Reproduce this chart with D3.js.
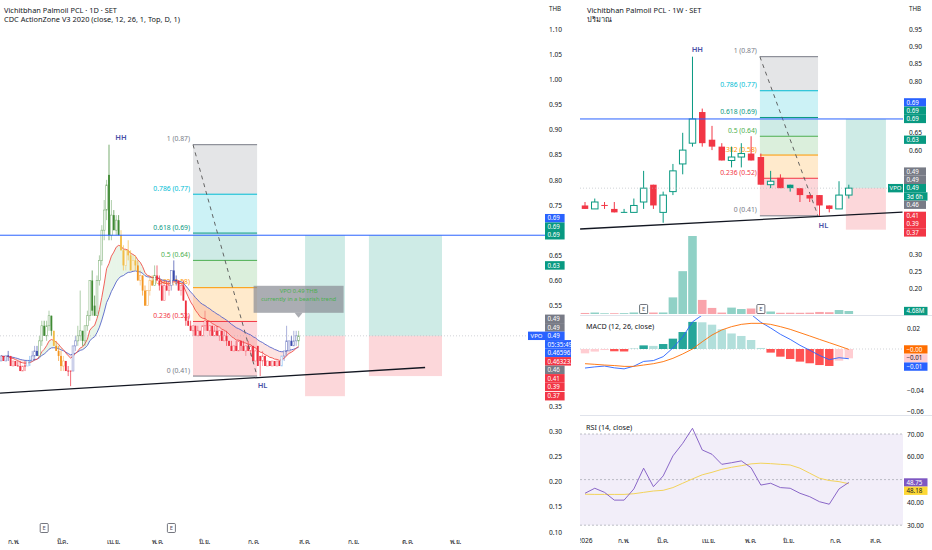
<!DOCTYPE html>
<html><head><meta charset="utf-8">
<script src="https://cdn.jsdelivr.net/npm/d3@7"></script>
<style>
body{margin:0;background:#fff}
svg{display:block}
text{font-family:"Noto Sans","Open Sans",Roboto,sans-serif}
</style>
</head><body>
<svg id="c" width="932" height="550"></svg>
<script>
// ---------------- DATA ----------------
// Daily candles [open, high, low, close]
const dailyOHLC = [
[0.44,0.45,0.44,0.45],[0.45,0.45,0.44,0.44],[0.44,0.45,0.44,0.45],[0.45,0.46,0.44,0.45],[0.45,0.45,0.43,0.43],
[0.43,0.44,0.43,0.44],[0.44,0.44,0.43,0.43],[0.43,0.44,0.43,0.43],[0.43,0.44,0.42,0.42],[0.42,0.43,0.42,0.43],
[0.43,0.44,0.42,0.43],[0.43,0.44,0.43,0.44],[0.44,0.45,0.43,0.44],[0.44,0.46,0.44,0.45],[0.45,0.47,0.44,0.46],
[0.46,0.47,0.45,0.45],[0.45,0.49,0.45,0.48],[0.48,0.52,0.47,0.51],[0.51,0.52,0.49,0.49],[0.49,0.52,0.48,0.51],
[0.51,0.54,0.50,0.53],[0.53,0.53,0.49,0.50],[0.50,0.50,0.47,0.47],[0.47,0.48,0.46,0.46],[0.46,0.47,0.44,0.45],
[0.45,0.46,0.42,0.43],[0.43,0.45,0.42,0.44],[0.44,0.44,0.42,0.42],[0.42,0.43,0.41,0.42],[0.42,0.42,0.39,0.42],
[0.42,0.47,0.42,0.47],[0.47,0.49,0.46,0.48],[0.48,0.51,0.47,0.49],[0.49,0.58,0.48,0.50],[0.50,0.50,0.47,0.48],
[0.48,0.51,0.47,0.51],[0.51,0.54,0.50,0.53],[0.53,0.60,0.52,0.60],[0.60,0.62,0.53,0.54],[0.55,0.57,0.53,0.53],
[0.53,0.61,0.53,0.60],[0.60,0.65,0.59,0.64],[0.64,0.71,0.63,0.70],[0.70,0.76,0.68,0.74],[0.74,0.80,0.72,0.79],
[0.81,0.87,0.68,0.69],[0.69,0.76,0.68,0.73],[0.73,0.74,0.70,0.70],[0.70,0.73,0.69,0.72],[0.72,0.73,0.69,0.69],
[0.69,0.70,0.66,0.66],[0.66,0.67,0.62,0.63],[0.63,0.66,0.62,0.66],[0.66,0.68,0.64,0.65],[0.65,0.66,0.62,0.62],
[0.62,0.65,0.62,0.64],[0.64,0.65,0.62,0.63],[0.63,0.64,0.60,0.60],[0.60,0.62,0.59,0.61],[0.61,0.61,0.57,0.58],
[0.58,0.59,0.55,0.55],[0.55,0.58,0.55,0.58],[0.58,0.61,0.57,0.60],[0.60,0.61,0.59,0.59],[0.59,0.63,0.59,0.61],
[0.61,0.63,0.60,0.60],[0.60,0.61,0.58,0.59],[0.59,0.60,0.56,0.56],[0.56,0.60,0.56,0.59],[0.59,0.60,0.58,0.58],
[0.58,0.60,0.57,0.59],[0.59,0.62,0.58,0.62],[0.62,0.64,0.60,0.60],[0.60,0.61,0.59,0.60],[0.60,0.60,0.58,0.58],
[0.58,0.59,0.57,0.59],[0.59,0.60,0.56,0.56],[0.56,0.56,0.51,0.52],[0.52,0.53,0.51,0.51],[0.51,0.52,0.50,0.50],
[0.50,0.51,0.49,0.51],[0.51,0.51,0.49,0.49],[0.49,0.51,0.49,0.50],[0.50,0.50,0.49,0.49],[0.49,0.51,0.49,0.51],
[0.51,0.54,0.50,0.52],[0.52,0.52,0.50,0.50],[0.50,0.51,0.49,0.51],[0.51,0.51,0.49,0.49],[0.49,0.51,0.49,0.50],
[0.50,0.51,0.49,0.49],[0.49,0.50,0.48,0.50],[0.50,0.50,0.48,0.48],[0.48,0.50,0.48,0.49],[0.49,0.50,0.47,0.48],
[0.48,0.48,0.47,0.47],[0.47,0.48,0.46,0.46],[0.46,0.47,0.46,0.47],[0.47,0.48,0.46,0.46],[0.46,0.48,0.46,0.48],
[0.48,0.48,0.46,0.47],[0.47,0.48,0.46,0.46],[0.46,0.47,0.45,0.47],[0.47,0.48,0.46,0.46],[0.46,0.47,0.45,0.47],
[0.47,0.47,0.44,0.44],[0.44,0.46,0.44,0.46],[0.47,0.47,0.43,0.43],[0.45,0.45,0.41,0.44],[0.44,0.46,0.43,0.45],
[0.45,0.45,0.43,0.43],[0.43,0.44,0.43,0.44],[0.44,0.44,0.43,0.43],[0.43,0.44,0.43,0.44],[0.44,0.44,0.43,0.43],
[0.43,0.44,0.43,0.44],[0.44,0.44,0.43,0.43],[0.43,0.45,0.43,0.45],[0.45,0.46,0.44,0.46],[0.46,0.51,0.45,0.48],
[0.46,0.48,0.46,0.48],[0.48,0.49,0.47,0.47],[0.47,0.50,0.47,0.48],[0.48,0.50,0.47,0.49],[0.48,0.50,0.47,0.49]
];
const leftMonths   = ['ก.พ.','มี.ค.','เม.ย.','พ.ค.','มิ.ย.','ก.ค.','ส.ค.','ก.ย.','ต.ค.','พ.ย.'];
const leftMonthIdx = [5, 25.4, 46.7, 65, 84.6, 105, 126.3, 146.7, 169.2, 189.2];
// visible price ticks (the others sit under the price labels)
const leftPriceTicks = [1.10,1.05,1.00,0.95,0.90,0.85,0.80,0.75,0.65,0.60,0.55,0.35,0.30,0.25,0.20,0.15,0.10];
const leftEarningsIdx = [18, 71];

// Weekly candles [open, high, low, close]
const weeklyOHLC = [
[0.44,0.45,0.43,0.43],[0.43,0.46,0.43,0.45],[0.44,0.45,0.43,0.44],[0.43,0.45,0.42,0.42],[0.42,0.43,0.42,0.42],
[0.42,0.46,0.42,0.44],[0.45,0.54,0.43,0.49],[0.50,0.50,0.43,0.44],[0.42,0.48,0.39,0.47],[0.48,0.56,0.47,0.54],
[0.56,0.65,0.53,0.60],[0.62,0.87,0.61,0.69],[0.71,0.72,0.61,0.62],[0.63,0.67,0.60,0.61],[0.61,0.62,0.57,0.57],
[0.57,0.61,0.55,0.58],[0.58,0.62,0.55,0.59],[0.59,0.64,0.57,0.57],[0.58,0.59,0.50,0.50],[0.50,0.54,0.49,0.51],
[0.52,0.53,0.49,0.49],[0.50,0.50,0.48,0.49],[0.49,0.49,0.45,0.47],[0.47,0.47,0.45,0.46],[0.47,0.47,0.41,0.44],
[0.44,0.44,0.42,0.43],[0.43,0.51,0.43,0.47],[0.47,0.50,0.46,0.49]
];
const weeklyVolumeM = [1.6,2.3,1.1,1.2,1.3,2.4,14,2.3,2.4,26,67,122,22,9.5,2.2,10,7.8,8.6,4.7,3.9,1.9,2.0,1.9,2.1,3.2,2.8,6.2,4.68];
const macdLine   = [-0.0184,-0.0173,-0.0165,-0.0182,-0.0192,-0.0166,-0.012,-0.0112,-0.0074,0.001,0.0116,0.0262,0.0328,0.037,0.0374,0.0366,0.0364,0.0335,0.0258,0.0203,0.0142,0.0093,0.0036,-0.0012,-0.0062,-0.0103,-0.0084,-0.0094];
const signalLine = [-0.0142,-0.0148,-0.0155,-0.016,-0.0168,-0.0168,-0.0155,-0.0142,-0.0122,-0.009,-0.0048,0,0.007,0.0135,0.0184,0.0216,0.0238,0.0248,0.0248,0.0238,0.0216,0.019,0.0158,0.0126,0.0093,0.0061,0.0029,-0.0004];
const macdHist   = [-0.0042,-0.0025,-0.001,-0.0022,-0.0024,0.0002,0.0035,0.003,0.0048,0.01,0.0164,0.0262,0.0258,0.0235,0.019,0.015,0.0126,0.0087,0.001,-0.0035,-0.0074,-0.0097,-0.0122,-0.0138,-0.0155,-0.0164,-0.0113,-0.009];
const rsiLine = [44.0,46.2,44.4,41.0,41.0,45.9,55.0,46.9,51.6,60.4,65.9,72.5,63.0,61.1,56.7,57.4,58.2,55.2,47.6,48.4,46.5,46.2,44.0,42.5,40.3,39.2,45.9,48.75];
const rsiMA   = [43.6,43.5,43.5,43.5,43.5,43.8,44.4,45.0,45.3,46.5,48.4,50.3,52.1,53.2,54.5,55.4,56.1,56.9,57.2,57.0,56.7,56.4,55.0,52.8,50.6,49.6,49.1,48.18];
const rightMonths   = ['2026','ก.พ.','มี.ค.','เม.ย.','พ.ค.','มิ.ย.','ก.ค.','ส.ค.'];
const rightMonthIdx = [-0.05, 3.9, 7.9, 12.6, 16.9, 20.8, 25.6, 29.7];
const rightPriceTicks = [0.95,0.90,0.85,0.80,0.65,0.60,0.30,0.25,0.20];
const macdTicks = [0.02,-0.04,-0.06];
const rsiTicks = [70,60,40,30];
const rightEarningsIdx = [6, 18];

// Drawings
const fibLevels = [1,0.786,0.618,0.5,0.382,0.236,0];
const fibPriceText = [0.87,0.77,0.69,0.64,0.58,0.52,0.41];
const fibDaily  = {i0:80, i1:106.7, hi:0.87, lo:0.41};
const fibWeekly = {i0:17.9, i1:23.85, hi:0.87, lo:0.41};
const hLinePrice = 0.69;
const vpoPrice = 0.49;
const trendDaily  = [[-0.4,0.376],[176.7,0.427]];
const trendWeekly = [[-0.5,0.372],[32.5,0.421]];
const posDaily  = [{i0:126.7,i1:143.3,target:0.69,entry:0.49,stop:0.37},{i0:153.3,i1:183.75,target:0.69,entry:0.49,stop:0.41}];
const posWeekly = [{i0:26.7,i1:30.8,target:0.69,entry:0.49,stop:0.37}];
const pivotsDaily  = [{t:'HH',i:50,p:0.87,up:true},{t:'HL',i:109,p:0.41,up:false}];
const pivotsWeekly = [{t:'HH',i:11.5,p:0.87,up:true},{t:'HL',i:24.4,p:0.41,up:false}];
const tooltipLines = ['VPO 0.49 THB','currently in a bearish trend'];

// Price-scale labels (top-to-bottom order)
const leftScaleLabels = [
 [{t:'0.69',v:0.69,c:'#2962ff'},{t:'0.69',v:0.69,c:'#089981'},{t:'0.69',v:0.69,c:'#089981',fixed:true}],
 [{t:'0.63',v:0.63,c:'#089981',fixed:true}],
 [{t:'0.49',v:0.49,c:'#787b86'},{t:'0.49',v:0.49,c:'#787b86'},{t:'0.49',v:0.49,c:'#2962ff',fixed:true},
  {t:'05:35:49',v:0.49,c:'#2962ff'},{t:'0.465963',v:0.465963,c:'#2962ff'},{t:'0.463232',v:0.463232,c:'#f23645'},
  {t:'0.46',v:0.46,c:'#787b86'},{t:'0.41',v:0.41,c:'#f23645'},{t:'0.39',v:0.39,c:'#f23645'},{t:'0.37',v:0.37,c:'#f23645'}]
];
const rightScaleLabels = [
 [{t:'0.69',v:0.69,c:'#2962ff'},{t:'0.69',v:0.69,c:'#089981'},{t:'0.69',v:0.69,c:'#089981',fixed:true}],
 [{t:'0.63',v:0.63,c:'#089981',fixed:true}],
 [{t:'0.49',v:0.49,c:'#787b86'},{t:'0.49',v:0.49,c:'#787b86'},{t:'0.49',v:0.49,c:'#089981',fixed:true},
  {t:'3d 6h',v:0.49,c:'#089981'},{t:'0.46',v:0.46,c:'#787b86'},{t:'0.41',v:0.41,c:'#f23645'},{t:'0.39',v:0.39,c:'#f23645'},{t:'0.37',v:0.37,c:'#f23645'}]
];

// ---------------- RENDER ----------------
const svg = d3.select('#c');
const FONT = '"Noto Sans","Open Sans",Roboto,sans-serif';
const TXT = '#131722';
const defs = svg.append('defs');
function clip(id,x,y,w,h){defs.append('clipPath').attr('id',id).append('rect').attr('x',x).attr('y',y).attr('width',w).attr('height',h);}
clip('cL',0,0,571,550); clip('cLP',0,0,545,535);
clip('cR',579,0,353,550); clip('cRM',580,0,323,315); clip('cRD',580,316,323,99); clip('cRR',580,416,323,114);
clip('cRX',580,530,323,20);

const xL = d3.scaleLinear().domain([0,124]).range([1,298.6]);
const yL = d3.scaleLinear().domain([0.10,1.10]).range([532,29]);
const xR = d3.scaleLinear().domain([0,27]).range([585,848.8]);
const yR = d3.scaleLinear().domain([0.15,0.95]).range([305.8,29]);
const vY = d3.scaleLinear().domain([0,d3.max(weeklyVolumeM)]).range([314,236]);
const mY = d3.scaleLinear().domain([-0.06,0.02]).range([411.1,328.3]);
const rY = d3.scaleLinear().domain([30,70]).range([525.2,434]);

function ema(arr,n){const k=2/(n+1);let p;return arr.map((v,i)=>(p=i?v*k+p*(1-k):v));}
const closes = dailyOHLC.map(d=>d[3]);
const fast = ema(closes,12), slow = ema(closes,26);
const C = {green:'#3f8a34',blue:'#3949ab',lblue:'#5fa8f0',red:'#ee3040',orange:'#f3941f',yellow:'#f3bd45'};
function cdc(i){const c=closes[i],f=fast[i],s=slow[i],bull=f>s;
 if(bull&&c>=f) return C.green;
 if(!bull&&c>=f&&c>=s) return C.blue;
 if(!bull&&c>=f&&c<s) return C.lblue;
 if(!bull&&c<f) return C.red;
 if(bull&&c<f&&c<s) return C.orange;
 return C.yellow;}

function drawPositions(g,x,y,list){
 list.forEach(p=>{
  g.append('rect').attr('x',x(p.i0)).attr('width',x(p.i1)-x(p.i0)).attr('y',y(p.target)).attr('height',y(p.entry)-y(p.target)).attr('fill','rgba(8,153,129,0.2)');
  g.append('rect').attr('x',x(p.i0)).attr('width',x(p.i1)-x(p.i0)).attr('y',y(p.entry)).attr('height',y(p.stop)-y(p.entry)).attr('fill','rgba(242,54,69,0.2)');
 });
}
const fibFill = ['rgba(120,123,134,0.2)','rgba(0,188,212,0.2)','rgba(8,153,129,0.2)','rgba(76,175,80,0.2)','rgba(255,152,0,0.2)','rgba(242,54,69,0.2)'];
const fibLine = ['#787b86','#00bcd4','#089981','#4caf50','#ff9800','#f23645','#787b86'];
function drawFibBack(g,x,y,f){
 const pr=r=>f.lo+(f.hi-f.lo)*r;
 for(let k=0;k<6;k++){
  g.append('rect').attr('x',x(f.i0)).attr('width',x(f.i1)-x(f.i0)).attr('y',y(pr(fibLevels[k]))).attr('height',y(pr(fibLevels[k+1]))-y(pr(fibLevels[k]))).attr('fill',fibFill[k]);
 }
 fibLevels.forEach((r,k)=>{
  g.append('line').attr('x1',x(f.i0)).attr('x2',x(f.i1)).attr('y1',y(pr(r))).attr('y2',y(pr(r))).attr('stroke',fibLine[k]).attr('stroke-width',1);
  g.append('text').attr('x',x(f.i0)-3).attr('y',y(pr(r))-3.5).attr('text-anchor','end').attr('font-size',6.8).attr('fill',fibLine[k]).text(`${r} (${d3.format('.2f')(fibPriceText[k])})`);
 });
}
function drawFibDiag(g,x,y,f){
 g.append('line').attr('x1',x(f.i0)).attr('y1',y(f.hi)).attr('x2',x(f.i1)).attr('y2',y(f.lo)).attr('stroke','#555').attr('stroke-width',0.9).attr('stroke-dasharray','4,4');
}
function drawCandles(g,x,y,data,colorFn,bw,ww,hollowOpacity){
 data.forEach((d,i)=>{
  const [o,h,l,c]=d, col=colorFn(i), cx=x(i);
  const up=c>o;
  g.append('line').attr('x1',cx).attr('x2',cx).attr('y1',y(h)).attr('y2',y(l)).attr('stroke',col).attr('stroke-width',ww).attr('stroke-opacity',up?hollowOpacity:1);
  const y0=y(Math.max(o,c)), y1=y(Math.min(o,c));
  if(up){
   g.append('rect').attr('x',cx-bw/2).attr('width',bw).attr('y',y0).attr('height',Math.max(0.8,y1-y0)).attr('fill','#fff').attr('stroke',col).attr('stroke-width',Math.min(1,bw/3)).attr('stroke-opacity',hollowOpacity);
  } else if(c===o){
   g.append('line').attr('x1',cx-bw/2).attr('x2',cx+bw/2).attr('y1',y0).attr('y2',y0).attr('stroke',col).attr('stroke-width',1);
  } else {
   g.append('rect').attr('x',cx-bw/2).attr('width',bw).attr('y',y0).attr('height',Math.max(0.8,y1-y0)).attr('fill',col);
  }
 });
}
function layout(list,y,h){
 const ys=list.map(d=>y(d.v)); const fi=list.findIndex(d=>d.fixed); const o=ys.slice();
 for(let i=fi-1;i>=0;i--) o[i]=Math.min(ys[i],o[i+1]-h);
 for(let i=fi+1;i<list.length;i++) o[i]=Math.max(ys[i],o[i-1]+h);
 return o;
}
function drawScaleLabels(g,groups,y,x0,w,h){
 groups.forEach(list=>{
  const ys=layout(list,y,h);
  list.forEach((d,i)=>{
   const tw=Math.max(w,d.t.length*3.9+4);
   g.append('rect').attr('x',x0).attr('y',ys[i]-h/2).attr('width',tw).attr('height',h).attr('fill',d.c);
   g.append('text').attr('x',x0+2.5).attr('y',ys[i]).attr('dy','0.35em').attr('font-size',6.2).attr('fill',d.tc||'#fff').text(d.t);
  });
 });
}
function drawEarnings(g,x,idx,yc){
 idx.forEach(i=>{
  g.append('rect').attr('x',x(i)-4).attr('y',yc-4.5).attr('width',8).attr('height',9).attr('fill','#fff').attr('stroke','#50535e').attr('stroke-width',0.8).attr('rx',1);
  g.append('text').attr('x',x(i)).attr('y',yc).attr('dy','0.35em').attr('text-anchor','middle').attr('font-size',5.8).attr('fill','#50535e').text('E');
 });
}
function drawPivots(g,x,y,list){
 list.forEach(p=>{
  g.append('text').attr('x',x(p.i)).attr('y',y(p.p)+(p.up?-5:12)).attr('text-anchor','middle').attr('font-size',7.5).attr('font-weight',600).attr('fill','#4a50a6').text(p.t);
 });
}
function styleAxis(g){g.select('.domain').remove();g.attr('font-family',FONT).attr('font-size',6.6);g.selectAll('text').attr('fill',TXT);}

// ===== LEFT PANEL =====
const LP = svg.append('g').attr('clip-path','url(#cL)');
const L = LP.append('g').attr('clip-path','url(#cLP)');
drawPositions(L,xL,yL,posDaily);
drawFibBack(L,xL,yL,fibDaily);
// EMA cloud
for(let i=0;i<closes.length-1;i++){
 const pts=[[xL(i),yL(fast[i])],[xL(i+1),yL(fast[i+1])],[xL(i+1),yL(slow[i+1])],[xL(i),yL(slow[i])]];
 L.append('path').attr('d','M'+pts.join('L')+'Z').attr('fill',fast[i+1]>slow[i+1]?'rgba(76,175,80,0.13)':'rgba(244,67,54,0.15)');
}
const lineGen=(x,y,arr)=>d3.line().x((d,i)=>x(i)).y(d=>y(d))(arr);
L.append('path').attr('d',lineGen(xL,yL,slow)).attr('fill','none').attr('stroke','#5664c8').attr('stroke-width',0.9);
L.append('path').attr('d',lineGen(xL,yL,fast)).attr('fill','none').attr('stroke','#f0504a').attr('stroke-width',0.9);
drawCandles(L,xL,yL,dailyOHLC,cdc,1.8,0.7,0.6);
drawFibDiag(L,xL,yL,fibDaily);
L.append('line').attr('x1',0).attr('x2',545).attr('y1',yL(hLinePrice)).attr('y2',yL(hLinePrice)).attr('stroke','#2962ff').attr('stroke-width',1);
L.append('line').attr('x1',0).attr('x2',545).attr('y1',yL(vpoPrice)).attr('y2',yL(vpoPrice)).attr('stroke','#b2b5be').attr('stroke-width',0.6).attr('stroke-dasharray','1,2');
L.append('line').attr('x1',xL(trendDaily[0][0])).attr('y1',yL(trendDaily[0][1])).attr('x2',xL(trendDaily[1][0])).attr('y2',yL(trendDaily[1][1])).attr('stroke',TXT).attr('stroke-width',1.3);
drawPivots(L,xL,yL,pivotsDaily);
// tooltip
{
 const last=dailyOHLC.length-1, tx=xL(last), ty=yL(dailyOHLC[last][1])-13;
 L.append('rect').attr('x',tx-45).attr('y',ty-32).attr('width',90).attr('height',27).attr('fill','#8a8d96').attr('fill-opacity',0.72);
 L.append('path').attr('d',`M${tx-4},${ty-5}L${tx+4},${ty-5}L${tx},${ty}Z`).attr('fill','#8a8d96').attr('fill-opacity',0.72);
 tooltipLines.forEach((t,k)=>L.append('text').attr('x',tx).attr('y',ty-27+k*8.2).attr('dy','0.35em').attr('text-anchor','middle').attr('font-size',5.9).attr('fill','#4caf50').text(t));
}
drawEarnings(L,xL,leftEarningsIdx,528);
// VPO tag
LP.append('rect').attr('x',528).attr('y',yL(vpoPrice)-4.2).attr('width',17).attr('height',8.4).attr('fill','#2962ff');
LP.append('text').attr('x',536.5).attr('y',yL(vpoPrice)).attr('dy','0.35em').attr('text-anchor','middle').attr('font-size',6.0).attr('fill','#fff').text('VPO');
// axes
const axLY = LP.append('g').attr('transform','translate(549,0)').call(d3.axisRight(yL).tickValues(leftPriceTicks).tickSize(0).tickPadding(0).tickFormat(d3.format('.2f')));
styleAxis(axLY);
LP.append('text').attr('x',549).attr('y',9).attr('dy','0.35em').attr('font-size',6.2).attr('fill',TXT).text('THB');
const axLX = LP.append('g').attr('transform','translate(0,539)').call(d3.axisBottom(xL).tickValues(leftMonthIdx).tickFormat((d,i)=>leftMonths[i]).tickSize(0).tickPadding(0));
styleAxis(axLX);
drawScaleLabels(LP,leftScaleLabels,yL,545,19.5,8.5);
LP.append('text').attr('x',4).attr('y',10).attr('dy','0.35em').attr('font-size',7.4).attr('fill',TXT).text('Vichitbhan Palmoil PCL · 1D · SET');
LP.append('text').attr('x',4).attr('y',19.5).attr('dy','0.35em').attr('font-size',7.4).attr('fill',TXT).text('CDC ActionZone V3 2020 (close, 12, 26, 1, Top, D, 1)');

// ===== RIGHT PANEL =====
const RP = svg.append('g').attr('clip-path','url(#cR)');
[315.5,415.5].forEach(yy=>RP.append('line').attr('x1',580).attr('x2',932).attr('y1',yy).attr('y2',yy).attr('stroke','#e0e3eb').attr('stroke-width',1));
const RM = RP.append('g').attr('clip-path','url(#cRM)');
drawPositions(RM,xR,yR,posWeekly);
drawFibBack(RM,xR,yR,fibWeekly);
// volume
weeklyVolumeM.forEach((v,i)=>{
 const d=weeklyOHLC[i], up=d[3]>=d[0];
 RM.append('rect').attr('x',xR(i)-4.3).attr('width',8.6).attr('y',vY(v)).attr('height',vY(0)-vY(v)).attr('fill',up?'rgba(8,153,129,0.45)':'rgba(242,54,69,0.45)');
});
drawCandles(RM,xR,yR,weeklyOHLC,i=>{const c=weeklyOHLC[i][3],pc=i?weeklyOHLC[i-1][3]:weeklyOHLC[i][0];return c>=pc?'#089981':'#f23645';},6.5,1,1);
drawFibDiag(RM,xR,yR,fibWeekly);
RM.append('line').attr('x1',580).attr('x2',903).attr('y1',yR(hLinePrice)).attr('y2',yR(hLinePrice)).attr('stroke','#2962ff').attr('stroke-width',1);
RM.append('line').attr('x1',580).attr('x2',903).attr('y1',yR(vpoPrice)).attr('y2',yR(vpoPrice)).attr('stroke','#b2b5be').attr('stroke-width',0.6).attr('stroke-dasharray','1,2');
RM.append('line').attr('x1',xR(trendWeekly[0][0])).attr('y1',yR(trendWeekly[0][1])).attr('x2',xR(trendWeekly[1][0])).attr('y2',yR(trendWeekly[1][1])).attr('stroke',TXT).attr('stroke-width',1.3);
drawPivots(RM,xR,yR,pivotsWeekly);
drawEarnings(RM,xR,rightEarningsIdx,309);
RP.append('rect').attr('x',888).attr('y',yR(vpoPrice)-4.2).attr('width',15).attr('height',8.4).attr('fill','#089981');
RP.append('text').attr('x',895.5).attr('y',yR(vpoPrice)).attr('dy','0.35em').attr('text-anchor','middle').attr('font-size',6.0).attr('fill','#fff').text('VPO');

// MACD pane
const RD = RP.append('g').attr('clip-path','url(#cRD)');
RD.append('line').attr('x1',580).attr('x2',903).attr('y1',mY(0)).attr('y2',mY(0)).attr('stroke','#b2b5be').attr('stroke-width',0.6).attr('stroke-dasharray','1,2');
macdHist.forEach((h,i)=>{
 const prev=i?macdHist[i-1]:h;
 const col=h>=0?(h>=prev?'#26a69a':'#b2dfdb'):(h<prev?'#ff5252':'#ffcdd2');
 RD.append('rect').attr('x',xR(i)-4.2).attr('width',8.4).attr('y',Math.min(mY(h),mY(0))).attr('height',Math.abs(mY(h)-mY(0))).attr('fill',col);
});
RD.append('path').attr('d',lineGen(xR,mY,macdLine)).attr('fill','none').attr('stroke','#2962ff').attr('stroke-width',0.9);
RD.append('path').attr('d',lineGen(xR,mY,signalLine)).attr('fill','none').attr('stroke','#ff6d00').attr('stroke-width',0.9);
RP.append('text').attr('x',586).attr('y',326).attr('dy','0.35em').attr('font-size',7.2).attr('fill',TXT).text('MACD (12, 26, close)');

// RSI pane
const RR = RP.append('g').attr('clip-path','url(#cRR)');
RR.append('rect').attr('x',580).attr('width',323).attr('y',rY(70)).attr('height',rY(30)-rY(70)).attr('fill','rgba(126,87,194,0.1)');
[70,50,30].forEach(v=>RR.append('line').attr('x1',580).attr('x2',903).attr('y1',rY(v)).attr('y2',rY(v)).attr('stroke','#9598a1').attr('stroke-width',0.6).attr('stroke-dasharray','2,2'));
RR.append('path').attr('d',lineGen(xR,rY,rsiMA)).attr('fill','none').attr('stroke','#f2d35b').attr('stroke-width',1);
RR.append('path').attr('d',lineGen(xR,rY,rsiLine)).attr('fill','none').attr('stroke','#7e57c2').attr('stroke-width',0.9);
RP.append('text').attr('x',586).attr('y',427).attr('dy','0.35em').attr('font-size',7.2).attr('fill',TXT).text('RSI (14, close)');

// right axes
const fmtSigned = v => (v<0?'−':'')+Math.abs(v).toFixed(2);
const axRY = RP.append('g').attr('transform','translate(909,0)').call(d3.axisRight(yR).tickValues(rightPriceTicks).tickSize(0).tickPadding(0).tickFormat(d3.format('.2f')));
styleAxis(axRY);
const axMY = RP.append('g').attr('transform','translate(907,0)').call(d3.axisRight(mY).tickValues(macdTicks).tickSize(0).tickPadding(0).tickFormat(fmtSigned));
styleAxis(axMY);
const axRS = RP.append('g').attr('transform','translate(907,0)').call(d3.axisRight(rY).tickValues(rsiTicks).tickSize(0).tickPadding(0).tickFormat(d3.format('.2f')));
styleAxis(axRS);
RP.append('text').attr('x',909).attr('y',9).attr('dy','0.35em').attr('font-size',6.2).attr('fill',TXT).text('THB');
const axRX = RP.append('g').attr('clip-path','url(#cRX)');
axRX.append('g').attr('transform','translate(0,538)').call(d3.axisBottom(xR).tickValues(rightMonthIdx).tickFormat((d,i)=>rightMonths[i]).tickSize(0).tickPadding(0)).call(styleAxis);
drawScaleLabels(RP,rightScaleLabels,yR,904,22,8.3);
const n=weeklyOHLC.length-1;
drawScaleLabels(RP,[[{t:d3.format('.2f')(weeklyVolumeM[n])+'M',v:weeklyVolumeM[n],c:'#089981',fixed:true}]],vY,904,22,8.3);
drawScaleLabels(RP,[[{t:fmtSigned(signalLine[n]),v:signalLine[n],c:'#ff6d00',fixed:true},{t:fmtSigned(macdHist[n]),v:macdHist[n],c:'#ffcdd2',tc:TXT},{t:fmtSigned(macdLine[n]),v:macdLine[n],c:'#2962ff'}]],mY,904,22,8.3);
drawScaleLabels(RP,[[{t:d3.format('.2f')(rsiLine[n]),v:rsiLine[n],c:'#7e57c2',fixed:true},{t:d3.format('.2f')(rsiMA[n]),v:rsiMA[n],c:'#fdd835',tc:TXT}]],rY,904,22,8.3);
RP.append('text').attr('x',587).attr('y',10).attr('dy','0.35em').attr('font-size',7.4).attr('fill',TXT).text('Vichitbhan Palmoil PCL · 1W · SET');
RP.append('text').attr('x',587).attr('y',19.5).attr('dy','0.35em').attr('font-size',7.4).attr('fill',TXT).text('ปริมาณ');
</script>
</body></html>
